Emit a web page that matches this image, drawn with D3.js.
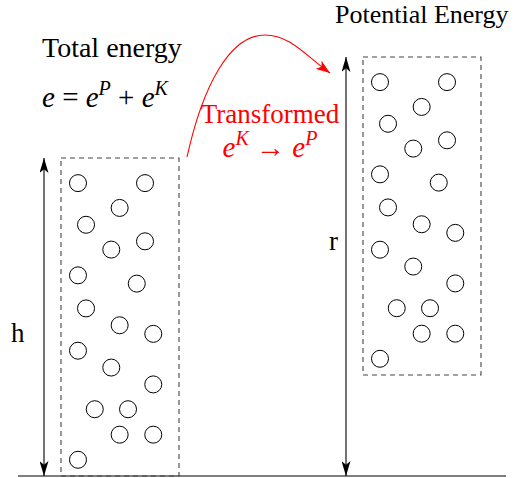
<!DOCTYPE html>
<html>
<head>
<meta charset="utf-8">
<script src="https://cdn.jsdelivr.net/npm/d3@7"></script>
<style>
  body { margin: 0; background: #fff; }
</style>
</head>
<body>
<svg class="chart"></svg>
<script>
// particle positions inside a box, as fractions of box width / height (0 = bottom)
var particleX = [0.144, 0.712, 0.497, 0.212, 0.426, 0.712, 0.144, 0.642, 0.212, 0.497,
                 0.782, 0.144, 0.426, 0.782, 0.286, 0.568, 0.497, 0.782, 0.144];
var particleY = [0.921, 0.921, 0.843, 0.790, 0.712, 0.738, 0.631, 0.605, 0.527, 0.474,
                 0.447, 0.394, 0.341, 0.288, 0.210, 0.210, 0.130, 0.130, 0.051];

var boxNames = ['ground', 'lifted'];
var heightLabels = ['h', 'r'];

var fontNames = ['Liberation Serif', 'DejaVu Serif'];

function show() {
    var width = 523, height = 478;
    var groundY = 476;

    var svg = d3.select('.chart')
        .attr('width', width)
        .attr('height', height);

    // all text goes through here
    function label(x, y, size, color) {
        return svg.append('text')
            .attr('x', x).attr('y', y)
            .attr('font-size', size)
            .attr('fill', color || '#000')
            .style('font-family', function () { return fontNames[0]; });
    }
    function span(t, str, italic, size, dy) {
        var s = t.append('tspan').text(str)
            .attr('font-style', italic ? 'italic' : 'normal');
        if (size) s.attr('font-size', size);
        if (dy) s.attr('dy', dy);
        return s;
    }

    var defs = svg.append('defs');
    function marker(id, color, len, half) {
        defs.append('marker')
            .attr('id', id)
            .attr('viewBox', '0 0 ' + len + ' ' + (half * 2))
            .attr('refX', len)
            .attr('refY', half)
            .attr('markerWidth', len)
            .attr('markerHeight', half * 2)
            .attr('markerUnits', 'userSpaceOnUse')
            .attr('orient', 'auto-start-reverse')
            .append('path')
            .attr('d', 'M0,0 L' + len + ',' + half + ' L0,' + (half * 2) + ' L' + (len * 0.25) + ',' + half + 'Z')
            .attr('fill', color);
    }
    marker('blackHead', '#000', 15, 4.5);
    marker('redHead', '#f00', 14, 5);

    // ground line
    svg.append('line')
        .attr('x1', 18).attr('x2', 506)
        .attr('y1', groundY).attr('y2', groundY)
        .attr('stroke', '#555')
        .attr('stroke-width', 1.5);

    var boxes = [
        { name: boxNames[0], x0: 61, x1: 179, bottom: groundY, top: 158, arrowX: 44, label: heightLabels[0], labelX: 11, labelY: 342 },
        { name: boxNames[1], x0: 363, x1: 481, bottom: 375, top: 57, arrowX: 346, label: heightLabels[1], labelX: 329, labelY: 250 }
    ];

    boxes.forEach(function (b) {
        var x = d3.scaleLinear().domain([0, 1]).range([b.x0, b.x1]);
        var y = d3.scaleLinear().domain([0, 1]).range([b.bottom, b.top]);

        var g = svg.append('g').attr('class', b.name);

        g.append('rect')
            .attr('x', x(0)).attr('y', y(1))
            .attr('width', x(1) - x(0))
            .attr('height', y(0) - y(1))
            .attr('fill', 'none')
            .attr('stroke', '#444')
            .attr('stroke-width', 1.1)
            .attr('stroke-dasharray', '5,4');

        g.selectAll('circle')
            .data(particleX)
            .enter()
            .append('circle')
            .attr('cx', function (d) { return x(d); })
            .attr('cy', function (d, i) { return y(particleY[i]); })
            .attr('r', 8.5)
            .attr('fill', 'none')
            .attr('stroke', '#000')
            .attr('stroke-width', 1);

        // height arrow from ground to box top
        svg.append('line')
            .attr('x1', b.arrowX).attr('x2', b.arrowX)
            .attr('y1', groundY).attr('y2', y(1))
            .attr('stroke', '#000')
            .attr('stroke-width', 1.1)
            .attr('marker-start', 'url(#blackHead)')
            .attr('marker-end', 'url(#blackHead)');

        label(b.labelX, b.labelY, 27).text(b.label);
    });

    // titles
    label(42, 57, 28).text('Total energy');
    label(335, 23, 26).text('Potential Energy');

    // e = e^P + e^K
    var eq = label(42, 107, 29);
    span(eq, 'e', true);
    span(eq, ' = ', false);
    span(eq, 'e', true);
    span(eq, 'P', true, 20, -12);
    span(eq, ' + ', false, null, 12);
    span(eq, 'e', true);
    span(eq, 'K', true, 20, -12);

    // red transform arrow
    svg.append('path')
        .attr('d', 'M187,157 C203,85 230,35 265,35 C290,35 305,55 330,73')
        .attr('fill', 'none')
        .attr('stroke', '#f00')
        .attr('stroke-width', 1.1)
        .attr('marker-end', 'url(#redHead)');

    label(270, 123, 27, '#f00')
        .attr('text-anchor', 'middle')
        .text('Transformed');

    var tr = label(270, 157, 29, '#f00').attr('text-anchor', 'middle');
    span(tr, 'e', true);
    span(tr, 'K', true, 20, -12);
    span(tr, ' \u2192 ', false, null, 12);
    span(tr, 'e', true);
    span(tr, 'P', true, 20, -12);
}

show();
</script>
</body>
</html>
